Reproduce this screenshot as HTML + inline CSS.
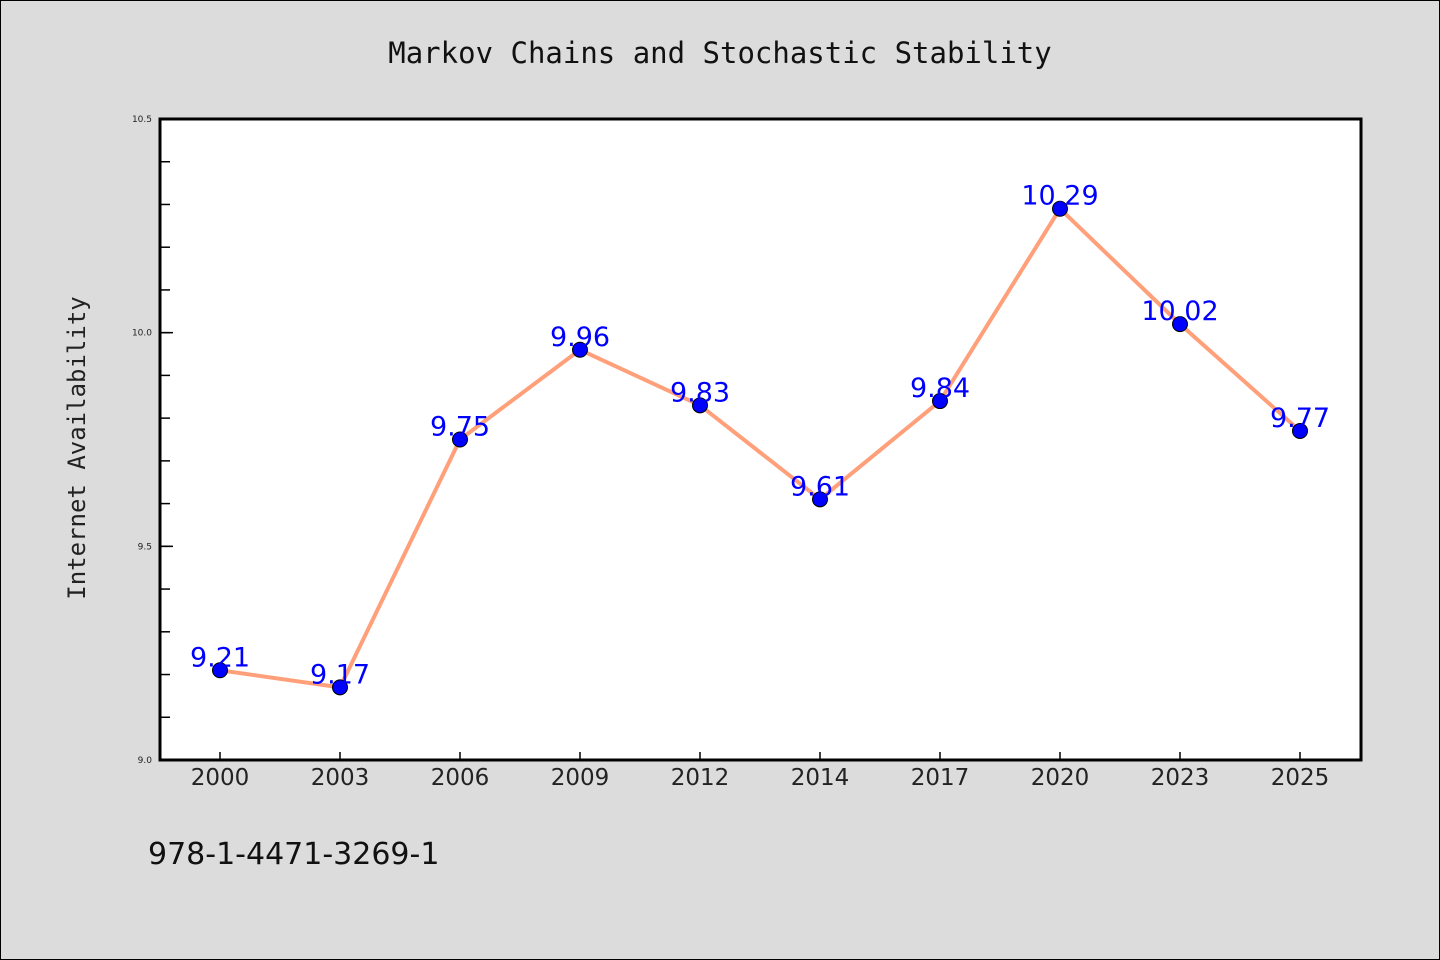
<!DOCTYPE html>
<html><head><meta charset="utf-8"><style>
body{margin:0;background:#dcdcdc;}
svg{display:block;font-family:"DejaVu Sans","Liberation Sans",sans-serif;}
</style></head><body>
<svg id="chart" width="1440" height="960" viewBox="0 0 1440 960" xmlns="http://www.w3.org/2000/svg">
<rect x="0.5" y="0.5" width="1439" height="959" fill="#dcdcdc" stroke="#000" stroke-width="1"/>
<text x="720" y="63" text-anchor="middle" font-family="DejaVu Sans Mono, Liberation Mono, monospace" font-size="29" fill="#111">Markov Chains and Stochastic Stability</text>
<rect x="160" y="119" width="1201" height="641" fill="#fff"/>
<g id="axes"></g>
<g id="series"></g>
<rect x="160" y="119" width="1201" height="641" fill="none" stroke="#000" stroke-width="3"/>
<text transform="translate(85,448) rotate(-90)" text-anchor="middle" font-family="DejaVu Sans Mono, Liberation Mono, monospace" font-size="24" fill="#222">Internet Availability</text>
<text x="148" y="864" font-size="30" fill="#111">978-1-4471-3269-1</text>
</svg>
<script>
const categories=["2000","2003","2006","2009","2012","2014","2017","2020","2023","2025"];
const values=[9.21,9.17,9.75,9.96,9.83,9.61,9.84,10.29,10.02,9.77];
const yTickLabels=["9.0","9.5","10.0","10.5"];
const yTickValues=[9.0,9.5,10.0,10.5];
const yMin=9.0,yMax=10.5;
const NS="http://www.w3.org/2000/svg";
function xs(i){return 220+i*120;}
function ys(v){return 760-(v-yMin)/(yMax-yMin)*641;}
function mk(tag,attrs,parent){const e=document.createElementNS(NS,tag);for(const k in attrs)e.setAttribute(k,attrs[k]);parent.appendChild(e);return e;}
const axes=document.getElementById('axes'),series=document.getElementById('series');
for(let v=9.1;v<10.5;v+=0.1){
  const y=ys(v);
  const t=mk('line',{x1:160,x2:170,y1:y,y2:y,stroke:'#000','stroke-width':1.5},axes);
  
  
}
yTickValues.forEach((v,i)=>{
  const y=ys(v);
  const t=mk('line',{x1:160,x2:173,y1:y,y2:y,stroke:'#000','stroke-width':1.5},axes);
  
  
  const l=mk('text',{x:152,y:y+3,'text-anchor':'end','font-size':9,fill:'#222'},axes);
  l.textContent=yTickLabels[i];
  
  
});
categories.forEach((c,i)=>{
  const x=xs(i);
  const t=mk('line',{x1:x,x2:x,y1:760,y2:752,stroke:'#000','stroke-width':1.5},axes);
  
  
  const l=mk('text',{x:x,y:785,'text-anchor':'middle','font-size':23,fill:'#222'},axes);
  l.textContent=c;
  
  
});
const pts=values.map((v,i)=>xs(i)+','+ys(v)).join(' ');
const line=mk('polyline',{points:pts,fill:'none',stroke:'#ffa07a','stroke-width':4,'stroke-linejoin':'round'},series);


values.forEach((v,i)=>{
  const p=mk('circle',{cx:xs(i),cy:ys(v),r:7.5,fill:'#0000ff',stroke:'#000','stroke-width':1},series);
  
  
  const l=mk('text',{x:xs(i),y:ys(v)-4,'text-anchor':'middle','font-size':27,fill:'#0000ff'},series);
  l.textContent=v.toFixed(2);
  
  
});
</script>
</body></html>
